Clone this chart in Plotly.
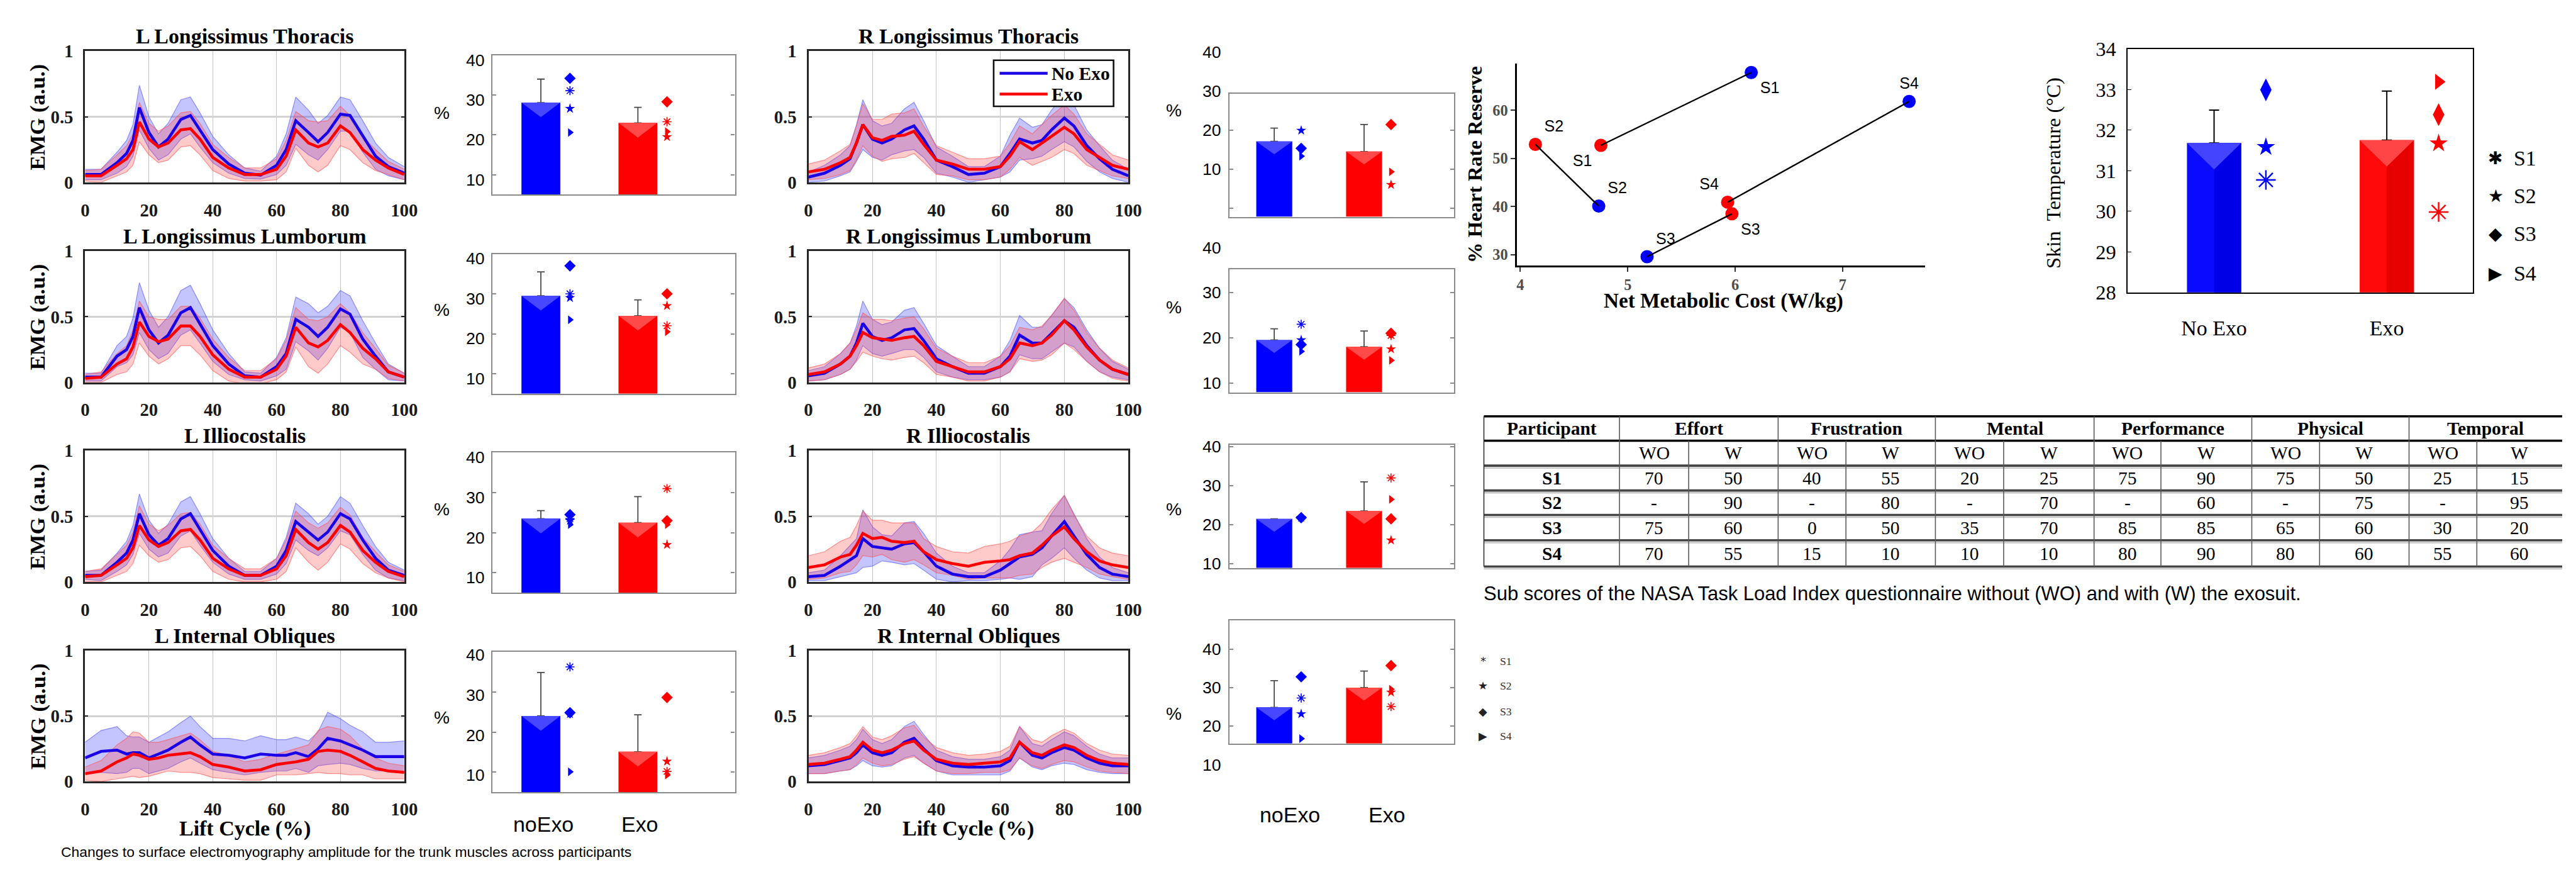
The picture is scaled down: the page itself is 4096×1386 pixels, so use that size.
import plotly.graph_objects as go

# ====================== DATA ======================
lift_cycle = [0, 5, 10, 13, 15, 17, 20, 23, 26, 30, 33, 36, 40, 45, 50, 55, 60, 63, 66, 70, 73, 76, 80, 83, 87, 91, 95, 100]

llt_noexo_mean = [0.06,0.06,0.15,0.22,0.32,0.57,0.38,0.27,0.33,0.48, 0.51,0.40,0.25,0.14,0.07,0.055,0.13,0.25,0.47,0.38, 0.31,0.38,0.52,0.51,0.35,0.20,0.12,0.07]
llt_noexo_sd   = [0.04,0.04,0.08,0.10,0.12,0.17,0.12,0.10,0.12,0.15, 0.14,0.13,0.10,0.07,0.04,0.03,0.07,0.12,0.18,0.17, 0.14,0.13,0.13,0.12,0.12,0.10,0.07,0.05]
llt_exo_mean   = [0.05,0.05,0.13,0.18,0.25,0.46,0.33,0.27,0.30,0.40, 0.41,0.33,0.19,0.11,0.06,0.06,0.10,0.20,0.40,0.30, 0.27,0.30,0.43,0.38,0.25,0.17,0.11,0.06]
llt_exo_sd     = [0.04,0.05,0.08,0.10,0.12,0.15,0.12,0.12,0.13,0.13, 0.13,0.12,0.10,0.08,0.05,0.05,0.08,0.12,0.14,0.17, 0.19,0.17,0.15,0.13,0.10,0.08,0.05,0.04]

lll_noexo_mean = [0.04,0.04,0.20,0.25,0.35,0.57,0.40,0.30,0.36,0.53, 0.57,0.45,0.28,0.14,0.05,0.04,0.12,0.22,0.48,0.42, 0.35,0.42,0.56,0.52,0.33,0.20,0.08,0.04]
lll_noexo_sd   = [0.03,0.03,0.08,0.10,0.14,0.19,0.15,0.12,0.14,0.17, 0.17,0.15,0.12,0.08,0.03,0.03,0.07,0.12,0.17,0.18, 0.18,0.16,0.14,0.14,0.14,0.10,0.06,0.03]
lll_exo_mean   = [0.03,0.04,0.14,0.18,0.27,0.46,0.35,0.31,0.33,0.43, 0.43,0.35,0.21,0.10,0.04,0.04,0.10,0.20,0.42,0.30, 0.27,0.32,0.44,0.38,0.26,0.18,0.08,0.04]
lll_exo_sd     = [0.03,0.04,0.08,0.10,0.13,0.16,0.15,0.17,0.15,0.15, 0.15,0.14,0.12,0.09,0.05,0.05,0.08,0.12,0.15,0.18, 0.20,0.18,0.16,0.15,0.12,0.08,0.05,0.03]

li_noexo_mean = [0.05,0.05,0.15,0.22,0.32,0.52,0.36,0.28,0.33,0.48, 0.52,0.40,0.24,0.12,0.05,0.05,0.12,0.24,0.46,0.38, 0.32,0.38,0.52,0.48,0.32,0.18,0.09,0.05]
li_noexo_sd   = [0.03,0.04,0.07,0.09,0.11,0.15,0.11,0.09,0.11,0.13, 0.13,0.12,0.09,0.06,0.03,0.03,0.06,0.10,0.14,0.14, 0.12,0.12,0.13,0.12,0.11,0.09,0.06,0.04]
li_exo_mean   = [0.04,0.05,0.13,0.18,0.26,0.43,0.32,0.27,0.30,0.39, 0.40,0.32,0.18,0.10,0.05,0.05,0.10,0.20,0.40,0.30, 0.25,0.30,0.43,0.38,0.24,0.15,0.08,0.04]
li_exo_sd     = [0.04,0.05,0.08,0.10,0.12,0.15,0.12,0.12,0.13,0.13, 0.13,0.12,0.10,0.08,0.05,0.05,0.08,0.12,0.14,0.15, 0.16,0.15,0.14,0.13,0.10,0.08,0.05,0.04]

lio_noexo_mean = [0.18,0.23,0.24,0.21,0.22,0.22,0.18,0.21,0.24,0.30, 0.34,0.28,0.21,0.20,0.18,0.21,0.20,0.20,0.22,0.19, 0.25,0.33,0.31,0.28,0.24,0.19,0.19,0.19]
lio_noexo_sd   = [0.12,0.16,0.18,0.14,0.12,0.12,0.12,0.13,0.14,0.15, 0.16,0.14,0.12,0.13,0.13,0.14,0.12,0.12,0.12,0.12, 0.13,0.20,0.17,0.15,0.14,0.11,0.11,0.12]
lio_exo_mean   = [0.06,0.08,0.15,0.18,0.21,0.20,0.17,0.18,0.20,0.21, 0.22,0.19,0.13,0.11,0.08,0.09,0.13,0.14,0.15,0.17, 0.23,0.24,0.23,0.20,0.15,0.10,0.08,0.07]
lio_exo_sd     = [0.05,0.08,0.13,0.15,0.17,0.17,0.13,0.12,0.12,0.14, 0.15,0.13,0.10,0.09,0.07,0.08,0.08,0.09,0.10,0.11, 0.16,0.18,0.17,0.15,0.10,0.08,0.06,0.05]

rlt_noexo_mean = [0.04,0.07,0.13,0.18,0.30,0.44,0.33,0.30,0.33,0.40, 0.43,0.33,0.17,0.12,0.06,0.07,0.12,0.22,0.33,0.30, 0.32,0.40,0.49,0.43,0.28,0.18,0.10,0.05]
rlt_noexo_sd   = [0.04,0.06,0.08,0.10,0.14,0.19,0.14,0.13,0.12,0.16, 0.18,0.14,0.10,0.08,0.06,0.05,0.08,0.14,0.16,0.12, 0.12,0.15,0.18,0.16,0.12,0.10,0.07,0.05]
rlt_exo_mean   = [0.08,0.10,0.15,0.19,0.30,0.44,0.34,0.32,0.35,0.36, 0.39,0.29,0.17,0.14,0.10,0.10,0.12,0.20,0.31,0.25, 0.30,0.35,0.42,0.37,0.25,0.19,0.13,0.10]
rlt_exo_sd     = [0.06,0.07,0.09,0.10,0.13,0.16,0.14,0.16,0.17,0.17, 0.17,0.14,0.11,0.09,0.08,0.08,0.08,0.10,0.12,0.12, 0.14,0.16,0.17,0.15,0.12,0.10,0.08,0.07]

rll_noexo_mean = [0.05,0.07,0.14,0.20,0.30,0.45,0.35,0.32,0.34,0.40, 0.41,0.32,0.18,0.12,0.07,0.07,0.12,0.20,0.36,0.30, 0.30,0.37,0.47,0.42,0.28,0.17,0.10,0.06]
rll_noexo_sd   = [0.04,0.05,0.08,0.10,0.13,0.17,0.13,0.12,0.12,0.15, 0.16,0.13,0.10,0.08,0.05,0.05,0.08,0.12,0.15,0.12, 0.12,0.14,0.17,0.15,0.12,0.09,0.06,0.04]
rll_exo_mean   = [0.06,0.08,0.14,0.20,0.28,0.38,0.34,0.33,0.32,0.34, 0.35,0.28,0.16,0.12,0.08,0.08,0.12,0.18,0.30,0.28, 0.30,0.36,0.47,0.40,0.27,0.17,0.10,0.06]
rll_exo_sd     = [0.05,0.06,0.08,0.10,0.12,0.15,0.14,0.15,0.15,0.15, 0.15,0.13,0.10,0.08,0.07,0.07,0.08,0.10,0.12,0.12, 0.13,0.15,0.17,0.15,0.11,0.09,0.07,0.05]

ri_noexo_mean = [0.04,0.05,0.12,0.17,0.20,0.33,0.27,0.26,0.25,0.29, 0.30,0.23,0.12,0.06,0.04,0.04,0.09,0.14,0.19,0.21, 0.26,0.35,0.46,0.35,0.21,0.11,0.06,0.04]
ri_noexo_sd   = [0.03,0.04,0.08,0.11,0.13,0.22,0.15,0.10,0.10,0.16, 0.16,0.14,0.10,0.06,0.03,0.03,0.07,0.11,0.17,0.17, 0.13,0.17,0.20,0.17,0.12,0.08,0.05,0.03]
ri_exo_mean   = [0.11,0.13,0.19,0.21,0.28,0.37,0.33,0.34,0.31,0.30, 0.31,0.23,0.17,0.14,0.12,0.15,0.16,0.17,0.20,0.22, 0.28,0.35,0.42,0.33,0.23,0.16,0.13,0.11]
ri_exo_sd     = [0.09,0.10,0.12,0.13,0.15,0.17,0.14,0.13,0.14,0.15, 0.14,0.10,0.10,0.09,0.10,0.12,0.13,0.14,0.15,0.16, 0.17,0.20,0.24,0.18,0.12,0.10,0.09,0.09]

rio_noexo_mean = [0.12,0.13,0.16,0.18,0.22,0.28,0.22,0.20,0.22,0.30, 0.33,0.25,0.16,0.12,0.11,0.11,0.12,0.16,0.30,0.20, 0.18,0.22,0.26,0.24,0.18,0.14,0.12,0.12]
rio_noexo_sd   = [0.06,0.07,0.08,0.09,0.10,0.12,0.10,0.09,0.10,0.12, 0.13,0.11,0.08,0.07,0.06,0.06,0.07,0.08,0.12,0.09, 0.09,0.10,0.12,0.11,0.09,0.07,0.06,0.06]
rio_exo_mean   = [0.13,0.14,0.17,0.19,0.24,0.30,0.24,0.22,0.24,0.29, 0.31,0.24,0.17,0.14,0.13,0.14,0.15,0.18,0.30,0.22, 0.20,0.24,0.28,0.26,0.20,0.16,0.14,0.13]
rio_exo_sd     = [0.07,0.08,0.09,0.10,0.11,0.12,0.10,0.10,0.11,0.12, 0.12,0.10,0.09,0.08,0.07,0.07,0.08,0.09,0.12,0.10, 0.10,0.11,0.12,0.11,0.09,0.08,0.07,0.07]

muscle_titles = ["L Longissimus Thoracis", "L Longissimus Lumborum", "L Illiocostalis", "L Internal Obliques",
                 "R Longissimus Thoracis", "R Longissimus Lumborum", "R Illiocostalis", "R Internal Obliques"]

# EMG amplitude change (%) per muscle, same order as muscle_titles
change_noexo_mean = [28.1, 29.5, 23.5, 24.0, 17.2, 19.5, 21.5, 24.9]
change_noexo_sd   = [5.9, 6.0, 2.0, 10.8, 3.4, 2.5, 0.0, 6.9]
change_exo_mean   = [23.0, 24.5, 22.5, 15.1, 14.6, 18.0, 23.5, 30.0]
change_exo_sd     = [3.9, 4.0, 6.5, 9.2, 6.9, 3.5, 7.5, 4.3]
change_s1_noexo = [31.1, 30.0, 23.5, 36.2, None, 23.0, None, 27.3]
change_s1_exo   = [23.3, 22.0, 31.0, 10.2, None, 20.5, 32.0, 25.1]
change_s2_noexo = [26.6, 29.0, 23.0, 24.5, 20.0, 19.5, 21.8, 23.2]
change_s2_exo   = [19.5, 27.0, 17.0, 12.7, 6.1, 17.5, 16.0, 28.8]
change_s3_noexo = [34.2, 37.0, 24.5, 24.8, 15.4, 18.5, 21.8, 32.8]
change_s3_exo   = [28.3, 30.0, 23.0, 28.6, 21.5, 21.0, 21.5, 35.7]
change_s4_noexo = [20.6, 23.5, 22.0, 10.1, 13.4, 17.0, None, 16.8]
change_s4_exo   = [20.8, 20.5, 22.0, 9.3, 9.4, 15.0, 26.5, 29.6]

# Heart rate reserve vs metabolic cost
hr_subjects = ["S1", "S2", "S3", "S4"]
nmc_noexo = [6.15, 4.73, 5.18, 7.62]
hrr_noexo = [67.8, 40.1, 29.6, 61.8]
nmc_exo = [4.75, 4.14, 5.97, 5.93]
hrr_exo = [52.7, 52.9, 38.5, 40.9]

# Skin temperature
skin_conditions = ["No Exo", "Exo"]
skin_mean = [31.68, 31.75]
skin_sd = [0.81, 1.21]
skin_s1 = [30.77, 29.98]
skin_s2 = [31.58, 31.67]
skin_s3 = [32.99, 32.38]
skin_s4 = [None, 33.19]

# NASA TLX table
tlx_participants = ["S1", "S2", "S3", "S4"]
tlx_dimensions = ["Effort", "Frustration", "Mental", "Performance", "Physical", "Temporal"]
tlx_effort_wo = ["70", "-", "75", "70"];      tlx_effort_w = ["50", "90", "60", "55"]
tlx_frustration_wo = ["40", "-", "0", "15"];  tlx_frustration_w = ["55", "80", "50", "10"]
tlx_mental_wo = ["20", "-", "35", "10"];      tlx_mental_w = ["25", "70", "70", "10"]
tlx_performance_wo = ["75", "-", "85", "80"]; tlx_performance_w = ["90", "60", "85", "90"]
tlx_physical_wo = ["75", "-", "65", "80"];    tlx_physical_w = ["50", "75", "60", "60"]
tlx_temporal_wo = ["25", "-", "30", "55"];    tlx_temporal_w = ["15", "95", "20", "60"]

# ====================== HELPERS ======================
W_REF, H_REF = 5546.0, 1877.0
SC = 0.738
def px(x): return x / W_REF
def py(y): return 1 - y / H_REF
def fs(r): return r * SC

SERIF = "Liberation Serif, Times New Roman, serif"
SANS = "Liberation Sans, Arial, sans-serif"
BLUE = "#0000ff"; RED = "#ff0000"

traces, shapes, annotations = [], [], []
layout = dict(width=4096, height=1386, margin=dict(l=0, r=0, t=0, b=0), autosize=False,
              paper_bgcolor="white", plot_bgcolor="white", showlegend=False)
axis_n = [0]

def new_axes(xr, yr, xkw, ykw):
    axis_n[0] += 1
    n = axis_n[0]
    s = "" if n == 1 else str(n)
    layout["xaxis" + s] = dict(domain=[px(xr[0]), px(xr[1])], anchor="y" + s, **xkw)
    layout["yaxis" + s] = dict(domain=[py(yr[1]), py(yr[0])], anchor="x" + s, **ykw)
    return "x" + s, "y" + s

def ann(text, x, y, size, family=SERIF, color="#000", weight="normal", xanchor="center",
        yanchor="middle", angle=0):
    annotations.append(dict(text=text, x=px(x), y=py(y), xref="paper", yref="paper", showarrow=False,
                            font=dict(family=family, size=fs(size), color=color, weight=weight),
                            xanchor=xanchor, yanchor=yanchor, textangle=angle))

# ====================== EMG TIME SERIES ======================
emg_sets = [
    (llt_noexo_mean, llt_noexo_sd, llt_exo_mean, llt_exo_sd),
    (lll_noexo_mean, lll_noexo_sd, lll_exo_mean, lll_exo_sd),
    (li_noexo_mean, li_noexo_sd, li_exo_mean, li_exo_sd),
    (lio_noexo_mean, lio_noexo_sd, lio_exo_mean, lio_exo_sd),
    (rlt_noexo_mean, rlt_noexo_sd, rlt_exo_mean, rlt_exo_sd),
    (rll_noexo_mean, rll_noexo_sd, rll_exo_mean, rll_exo_sd),
    (ri_noexo_mean, ri_noexo_sd, ri_exo_mean, ri_exo_sd),
    (rio_noexo_mean, rio_noexo_sd, rio_exo_mean, rio_exo_sd),
]
emg_cols_x = [(175, 867), (1743.5, 2437)]
emg_rows_y = [(88, 378), (530, 820), (971, 1261), (1413, 1702)]

emg_tickfont = dict(family=SERIF, size=fs(39), color="#1a1a1a", weight="bold")
for k, (bm, bs, rm, rs) in enumerate(emg_sets):
    col, row = k // 4, k % 4
    xr, yr = emg_cols_x[col], emg_rows_y[row]
    xa, ya = new_axes(xr, yr,
        dict(range=[0, 100], tickvals=[0, 20, 40, 60, 80, 100], showgrid=True, gridcolor="#c4c4c4", gridwidth=1.3,
             showline=True, mirror=True, linecolor="#262626", linewidth=3.2, ticks="", zeroline=False,
             tickfont=emg_tickfont, ticklabelstandoff=16),
        dict(range=[0, 1], tickvals=[0, 0.5, 1], ticktext=["0", "0.5", "1"], showgrid=True, gridcolor="#d2d2d2",
             gridwidth=3, showline=True, mirror="ticks", linecolor="#262626", linewidth=3.2, ticks="inside",
             ticklen=5, tickwidth=2, tickcolor="#262626", zeroline=False, tickfont=emg_tickfont,
             ticklabelstandoff=10))
    for mean, sd, fillc, edgec in ((bm, bs, "rgba(60,60,255,0.30)", "rgba(70,70,255,0.55)"),
                                   (rm, rs, "rgba(255,60,60,0.27)", "rgba(255,80,80,0.6)")):
        upper = [m + s for m, s in zip(mean, sd)]
        lower = [m - s for m, s in zip(mean, sd)]
        traces.append(go.Scatter(x=lift_cycle, y=upper, mode="lines", line=dict(color=edgec, width=1.2),
                                 xaxis=xa, yaxis=ya, hoverinfo="skip"))
        traces.append(go.Scatter(x=lift_cycle, y=lower, mode="lines", line=dict(color=edgec, width=1.2),
                                 fill="tonexty", fillcolor=fillc, xaxis=xa, yaxis=ya, hoverinfo="skip"))
    traces.append(go.Scatter(x=lift_cycle, y=bm, mode="lines", line=dict(color="#1a00e6", width=4.6),
                             xaxis=xa, yaxis=ya, name="No Exo"))
    traces.append(go.Scatter(x=lift_cycle, y=rm, mode="lines", line=dict(color=RED, width=4.6),
                             xaxis=xa, yaxis=ya, name="Exo"))
    cx = (xr[0] + xr[1]) / 2
    ann(muscle_titles[k], cx, yr[0] - 33, 46, weight="bold")
    if col == 0:
        ann("EMG (a.u.)", 72, (yr[0] + yr[1]) / 2, 47, weight="bold", angle=-90)
    if row == 3:
        ann("Lift Cycle (%)", cx, 1806, 46, weight="bold")

# manual EMG legend
shapes.append(dict(type="rect", xref="paper", yref="paper", x0=px(2145), x1=px(2405), y0=py(210), y1=py(108),
                   line=dict(color="#111", width=2.6), fillcolor="white", layer="above"))
for yy, c, lab in ((137, "#1a00e6", "No Exo"), (183, RED, "Exo")):
    shapes.append(dict(type="line", xref="paper", yref="paper", x0=px(2158), x1=px(2262), y0=py(yy), y1=py(yy),
                       line=dict(color=c, width=4.5), layer="above"))
    ann(lab, 2268, yy, 40, weight="bold", xanchor="left")

# ====================== EMG CHANGE BAR CHARTS ======================
bar_frames = [  # x_left, x_right, y_top, y_bottom, y_min, y_max  (reference pixels / data range)
    (1058, 1584, 97, 405, 5, 40), (1058, 1584, 536, 845, 5, 40),
    (1058, 1584, 975, 1285, 5, 40), (1058, 1584, 1415, 1726, 5, 40),
    (2656, 3143, 182, 454, -2.1, 29.4), (2656, 3143, 570, 842, 7.9, 35.2),
    (2656, 3143, 958, 1230, 8.9, 40.5), (2656, 3143, 1346, 1618, 15.55, 47.4)]
label_shift = [11, 11, 11, 7, 0, 0, 0, 0]
pct_label_y = [225, 660, 1100, 1560, 219, 654, 1100, 1552]
subject_sets = [(change_s1_noexo, change_s1_exo, "asterisk-open"), (change_s2_noexo, change_s2_exo, "star"),
                (change_s3_noexo, change_s3_exo, "diamond"), (change_s4_noexo, change_s4_exo, "triangle-right")]
BAR_W, MK_OFF = 0.4, 0.3
for k in range(8):
    x0r, x1r, ytr, ybr, r0, r1 = bar_frames[k]
    xa, ya = new_axes((x0r, x1r), (ytr, ybr),
        dict(range=[0.5, 3.0], showticklabels=False, ticks="", showgrid=False, zeroline=False,
             showline=True, mirror=True, linecolor="#8a8a8a", linewidth=2.2),
        dict(range=[r0, r1], tickvals=[0, 10, 20, 30, 40], showticklabels=False, ticks="inside", ticklen=6,
             tickcolor="#8a8a8a", tickwidth=1.5, showgrid=False, zeroline=False,
             showline=True, mirror="ticks", linecolor="#8a8a8a", linewidth=2.2))
    means = [change_noexo_mean[k], change_exo_mean[k]]
    sds = [change_noexo_sd[k], change_exo_sd[k]]
    traces.append(go.Bar(x=[1, 2], y=[m - r0 for m in means], base=r0, width=BAR_W,
                         marker=dict(color=[BLUE, RED], line=dict(width=0)),
                         error_y=dict(type="data", symmetric=False, array=sds, arrayminus=[0, 0],
                                      color="#4a4a4a", thickness=1.8, width=6),
                         xaxis=xa, yaxis=ya))
    h = 0.105 * (r1 - r0)
    for xc, v, c in ((1, means[0], "#4747ff"), (2, means[1], "#ff4a4a")):
        shapes.append(dict(type="path", xref=xa, yref=ya, layer="above", line=dict(width=0), fillcolor=c,
                           path=f"M {xc - BAR_W / 2},{v} L {xc + BAR_W / 2},{v} L {xc},{v - h} Z"))
    for nvals, evals, sym in subject_sets:
        ln = dict(color=[BLUE, RED], width=1.6) if "open" in sym else dict(width=0)
        traces.append(go.Scatter(x=[1 + MK_OFF, 2 + MK_OFF], y=[nvals[k], evals[k]], mode="markers",
                                 marker=dict(symbol=sym, size=12 if sym != "diamond" else 14,
                                             color=[BLUE, RED], line=ln),
                                 xaxis=xa, yaxis=ya, cliponaxis=False))
    # tick labels (placed at their data values)
    for v in (10, 20, 30, 40):
        yref_px = ybr - (v - r0) / (r1 - r0) * (ybr - ytr) + label_shift[k]
        ann(str(v), x0r - 14, yref_px, 36, family=SANS, xanchor="right")
    ann("%", x0r - 110 if k < 4 else x0r - 120, pct_label_y[k], 38, family=SANS)

# x labels under bottom bar charts
ann("noExo", 1169, 1797, 46, family=SANS); ann("Exo", 1377, 1797, 46, family=SANS)
ann("noExo", 2787, 1775, 46, family=SANS); ann("Exo", 2997, 1775, 46, family=SANS)

# small subject legend next to bottom right bar chart
for yy, g, lab in ((1436, "*", "S1"), (1491, "★", "S2"), (1547, "◆", "S3"), (1602, "▶", "S4")):
    ann(g, 3206, yy, 24, family="DejaVu Sans", color="#222")
    ann(lab, 3240, yy, 24, family=SERIF, color="#333", xanchor="left")

# ====================== HEART RATE vs METABOLIC COST ======================
xa, ya = new_axes((3280, 4165), (115, 562),
    dict(range=[3.97, 7.77], tickvals=[4, 5, 6, 7], showline=True, linecolor="#000", linewidth=2.6,
         ticks="outside", ticklen=7, tickwidth=2, tickcolor="#333", showgrid=False, zeroline=False,
         tickfont=dict(family=SERIF, size=fs(33), color="#4d4d4d", weight="bold")),
    dict(range=[27.75, 69.7], tickvals=[30, 40, 50, 60], showline=True, linecolor="#000", linewidth=2.6,
         ticks="outside", ticklen=7, tickwidth=2, tickcolor="#333", showgrid=False, zeroline=False,
         tickfont=dict(family=SERIF, size=fs(33), color="#4d4d4d", weight="bold")))
lab_font = dict(family=SANS, size=fs(34), color="#000")
traces.append(go.Scatter(x=nmc_noexo, y=hrr_noexo, mode="markers+text", text=hr_subjects,
                         textposition=["bottom right", "top right", "top right", "top center"],
                         textfont=lab_font, marker=dict(color=BLUE, size=21), xaxis=xa, yaxis=ya,
                         cliponaxis=False))
traces.append(go.Scatter(x=nmc_exo, y=hrr_exo, mode="markers+text", text=hr_subjects,
                         textposition=["bottom left", "top right", "bottom right", "top left"],
                         textfont=lab_font, marker=dict(color=RED, size=21), xaxis=xa, yaxis=ya,
                         cliponaxis=False))
for i in range(4):
    traces.append(go.Scatter(x=[nmc_noexo[i], nmc_exo[i]], y=[hrr_noexo[i], hrr_exo[i]], mode="lines",
                             line=dict(color="#000", width=2.4), xaxis=xa, yaxis=ya))
ann("% Heart Rate Reserve", 3188, 338, 44, weight="bold", angle=-90)
ann("Net Metabolic Cost (W/kg)", 3727, 640, 45, weight="bold")

# ====================== SKIN TEMPERATURE ======================
xa, ya = new_axes((4604, 5353), (83, 621),
    dict(range=[0.5, 2.5], tickvals=[1, 2], ticktext=skin_conditions, ticks="", showgrid=False, zeroline=False,
         showline=True, mirror=True, linecolor="#000", linewidth=2,
         tickfont=dict(family=SERIF, size=fs(46), color="#000"), ticklabelstandoff=26),
    dict(range=[28, 34], tickvals=[28, 29, 30, 31, 32, 33, 34], ticks="inside", ticklen=6, tickcolor="#000",
         showgrid=False, zeroline=False, showline=True, mirror=True, linecolor="#000", linewidth=2,
         tickfont=dict(family=SERIF, size=fs(44), color="#000"), ticklabelstandoff=10))
SK_W = 0.314
traces.append(go.Bar(x=[1, 2], y=skin_mean, width=SK_W, marker=dict(color=["#0a0aff", "#ff0a0a"], line=dict(width=0)),
                     error_y=dict(type="data", symmetric=False, array=skin_sd, arrayminus=[0, 0],
                                  color="#000", thickness=2, width=8),
                     xaxis=xa, yaxis=ya))
for xc, v, dark, light in ((1, skin_mean[0], "#0000e6", "#4444ff"), (2, skin_mean[1], "#e60000", "#ff4545")):
    shapes.append(dict(type="rect", xref=xa, yref=ya, x0=xc, x1=xc + SK_W / 2, y0=28, y1=v, layer="above",
                       line=dict(width=0), fillcolor=dark))
    shapes.append(dict(type="path", xref=xa, yref=ya, layer="above", line=dict(width=0), fillcolor=light,
                       path=f"M {xc - SK_W / 2},{v} L {xc + SK_W / 2},{v} L {xc},{v - 0.65} Z"))
skin_subjects = [(skin_s1, "asterisk-open", 26), (skin_s2, "star", 22), (skin_s3, "diamond-tall", 26),
                 (skin_s4, "triangle-right", 22)]
for vals, sym, size in skin_subjects:
    ln = dict(color=[BLUE, RED], width=2.4) if "open" in sym else dict(width=0)
    traces.append(go.Scatter(x=[1.3, 2.3], y=vals, mode="markers",
                             marker=dict(symbol=sym, size=size, color=[BLUE, RED], line=ln),
                             xaxis=xa, yaxis=ya, cliponaxis=False))
ann("Skin\u00a0\u00a0Temperature (°C)", 4443, 357, 44, angle=-90)
for yy, g, lab in ((324, "✱", "S1"), (408, "★", "S2"), (492, "◆", "S3"), (579, "▶", "S4")):
    ann(g, 5402, yy, 38, family="DejaVu Sans", color="#000")
    ann(lab, 5438, yy, 46, family=SERIF, xanchor="left")

# ====================== NASA TLX TABLE ======================
tbl_x = [3208, 3502, 3652, 3846, 3993, 4187, 4335, 4531, 4676, 4873, 5020, 5214, 5361, 5546]
tbl_y = [895, 949, 1004, 1059, 1113, 1169, 1227]
for i, yy in enumerate(tbl_y):
    c = "#000" if i < 2 else "#444"
    shapes.append(dict(type="line", xref="paper", yref="paper", x0=px(tbl_x[0]), x1=1.0, y0=py(yy), y1=py(yy),
                       line=dict(color=c, width=3.6)))
    if i >= 2:
        shapes.append(dict(type="line", xref="paper", yref="paper", x0=px(tbl_x[0]), x1=1.0, y0=py(yy + 5),
                           y1=py(yy + 5), line=dict(color="#c8c8c8", width=2.5)))
for j, xx in enumerate(tbl_x[:-1]):
    full = j in (0, 1, 3, 5, 7, 9, 11)
    shapes.append(dict(type="line", xref="paper", yref="paper", x0=px(xx), x1=px(xx),
                       y0=py(tbl_y[0] if full else tbl_y[1]), y1=py(tbl_y[-1]),
                       line=dict(color="#333" if j == 0 else "#5a5a5a", width=1.6)))
row_c = [(tbl_y[i] + tbl_y[i + 1]) / 2 for i in range(len(tbl_y) - 1)]
ann("Participant", (tbl_x[0] + tbl_x[1]) / 2, row_c[0], 40, weight="bold")
tlx_cols = [(tlx_effort_wo, tlx_effort_w), (tlx_frustration_wo, tlx_frustration_w), (tlx_mental_wo, tlx_mental_w),
            (tlx_performance_wo, tlx_performance_w), (tlx_physical_wo, tlx_physical_w),
            (tlx_temporal_wo, tlx_temporal_w)]
for g, name in enumerate(tlx_dimensions):
    xl, xm, xrr = tbl_x[1 + 2 * g], tbl_x[2 + 2 * g], tbl_x[3 + 2 * g]
    ann(name, (xl + xrr) / 2, row_c[0], 40, weight="bold")
    ann("WO", (xl + xm) / 2, row_c[1], 40)
    ann("W", (xm + xrr) / 2, row_c[1], 40)
    wo, w = tlx_cols[g]
    for r in range(4):
        ann(wo[r], (xl + xm) / 2, row_c[2 + r], 40)
        ann(w[r], (xm + xrr) / 2, row_c[2 + r], 40)
for r, p in enumerate(tlx_participants):
    ann(p, (tbl_x[0] + tbl_x[1]) / 2, row_c[2 + r], 40, weight="bold")

ann("Sub scores of the NASA Task Load Index questionnaire without (WO) and with (W) the exosuit.",
    3205, 1287, 42, family=SANS, xanchor="left")
ann("Changes to surface electromyography amplitude for the trunk muscles across participants",
    120, 1858, 31, family=SANS, xanchor="left")

layout["shapes"] = shapes
layout["annotations"] = annotations
fig = go.Figure(data=traces, layout=layout)
fig.write_html("out.html", config={"displayModeBar": False},
               post_script="document.body.style.margin='0';document.body.style.overflow='hidden';")
